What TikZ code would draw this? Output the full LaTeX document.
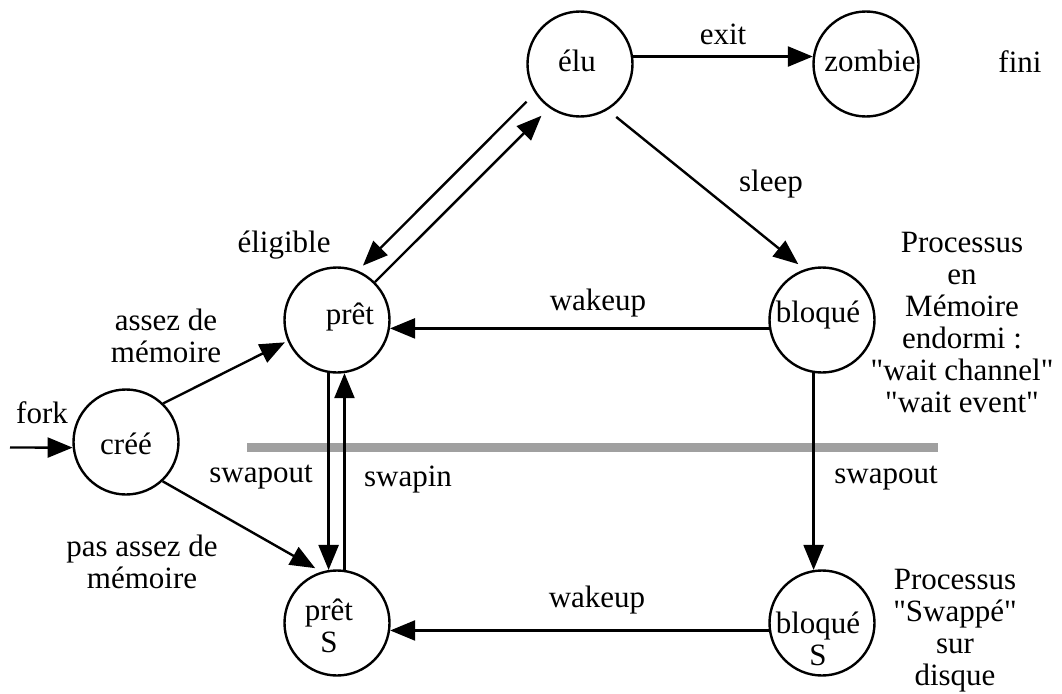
\documentclass[tikz,border=0pt]{standalone}
\usepackage{fontspec}
\setmainfont{Liberation Serif}[Ligatures=TeXOff]
\usetikzlibrary{arrows.meta}
\definecolor{barcol}{RGB}{160,160,160}
\begin{document}
\begin{tikzpicture}[x=1pt,y=-1pt,
  state/.style={circle, draw, line width=2.4pt, minimum size=105pt, inner sep=0pt},
  lbl/.style={inner sep=0pt, anchor=base, align=center, font=\fontsize{31}{32}\selectfont},
  arr/.style={line width=2.4pt, -{Triangle[length=25pt,width=20pt]}},
  plain/.style={line width=2.4pt}]
\useasboundingbox (0,0) rectangle (1062,693);

% separation bar
\coordinate (barL) at (247,447.5);
\coordinate (barR) at (938,447.5);
\draw[line width=9pt, barcol] (barL) -- (barR);

% states
\node[state] (elu) at (580,64) {};
\node[state] (zombie) at (866,64) {};
\node[state] (pret) at (337,320) {};
\node[state] (bloque) at (822,320) {};
\node[state] (cree) at (126,442) {};
\node[state] (pretS) at (337,623) {};
\node[state] (bloqueS) at (822,623) {};

% state texts (anchor = baseline of the last line)
\node[lbl] (tElu) at (577,71) {élu};
\node[lbl] (tZombie) at (870,71) {zombie};
\node[lbl] (tPret) at (350,324) {prêt};
\node[lbl] (tBloque) at (818,322) {bloqué};
\node[lbl] (tCree) at (126,454) {créé};
\node[lbl] (tPretS) at (329,652) {prêt\\S};
\node[lbl] (tBloqueS) at (818,665) {bloqué\\S};

% connectors
\coordinate (forkin) at (10,447.5);
\draw[arr] (forkin) -- (cree.186);
\draw[arr] (elu.8) -- (zombie.172);
\draw[arr, shorten <=11pt, shorten >=8pt] (elu.-59) -- (bloque.109);
\draw[arr, shorten <=12pt, shorten >=7pt] (elu.213) -- (pret.67);
\draw[arr, shorten >=11pt] (pret.45) -- (elu.235);
\draw[arr] (bloque.189) -- (pret.-9);
\draw[arr, shorten >=3pt] (cree.46) -- (pret.203);
\draw[arr, shorten >=7pt] (cree.-47) -- (pretS.107);
\draw[arr] (pret.261) -- (pretS.99);
\draw[arr] (pretS.82) -- (pret.278);
\draw[arr] (bloque.261) -- (bloqueS.99);
\draw[arr] (bloqueS.188) -- (pretS.-8);

% edge labels
\node[lbl] (lExit) at (723,45) {exit};
\node[lbl] (lFini) at (1020,73) {fini};
\node[lbl] (lSleep) at (771,191) {sleep};
\node[lbl] (lElig) at (284,252) {éligible};
\node[lbl] (lWake1) at (598,310) {wakeup};
\node[lbl] (lAssez) at (166,362) {assez de\\mémoire};
\node[lbl] (lFork) at (42,423) {fork};
\node[lbl] (lSwapoutL) at (261,482) {swapout};
\node[lbl] (lSwapin) at (408,486) {swapin};
\node[lbl] (lSwapoutR) at (886,483) {swapout};
\node[lbl] (lPasAssez) at (142,588) {pas assez de\\mémoire};
\node[lbl] (lWake2) at (597,607) {wakeup};
\node[lbl] (lMem) at (962,412) {Processus\\en\\Mémoire\\endormi :\\"wait channel"\\"wait event"};
\node[lbl] (lDisk) at (955,685) {Processus\\"Swappé"\\sur\\disque};
\end{tikzpicture}
\end{document}
